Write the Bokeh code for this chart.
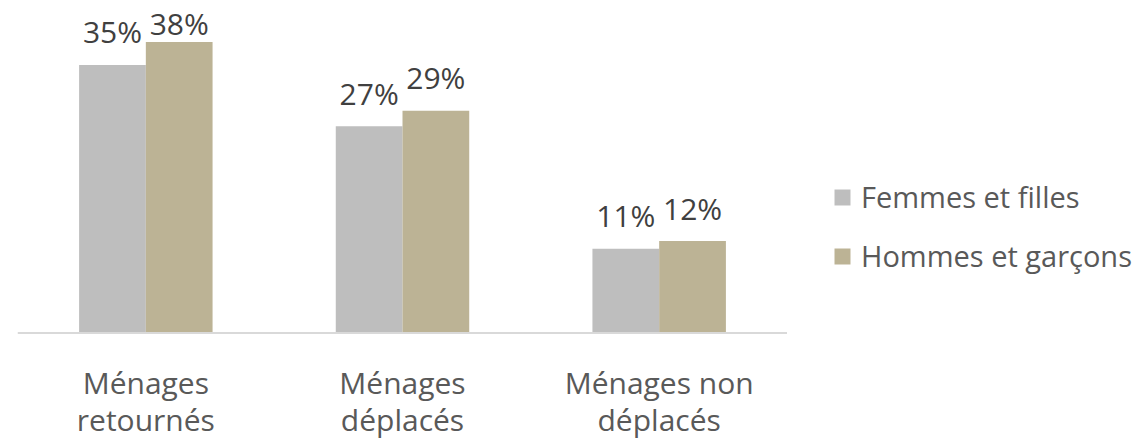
from bokeh.plotting import figure
from bokeh.layouts import row
from bokeh.models import ColumnDataSource, FactorRange, Legend, LegendItem, Span
from bokeh.transform import dodge
from bokeh.core.properties import value
from bokeh.embed import file_html
from bokeh.resources import INLINE
import numpy as np

categories = ["Ménages\nretournés", "Ménages\ndéplacés", "Ménages non\ndéplacés"]
femmes = [35, 27, 11]
hommes = [38, 29, 12]
series_names = ["Femmes et filles", "Hommes et garçons"]
colors = ["#BEBEBE", "#BCB395"]

FONT = "Open Sans"
W, H = 1148, 438
LEFT, FRAME_W = 17, 770
LEG_W = W - LEFT - FRAME_W
BASE = 332.5          # pixel row of the zero line, from the top of the figure
PX_PER = 7.66         # pixels per percentage point
y_end = BASE / PX_PER
y_start = -(H - BASE) / PX_PER

label_cap = y_end - 56 / PX_PER
src = ColumnDataSource(dict(
    cat=categories, f=femmes, h=hommes,
    f_lbl=[f"{v}%" for v in femmes], h_lbl=[f"{v}%" for v in hommes],
    f_y=list(np.minimum(femmes, label_cap)), h_y=list(np.minimum(hommes, label_cap)),
    line1=[c.split("\n")[0] for c in categories],
    line2=[c.split("\n")[1] for c in categories],
    y1=[-49.5 / PX_PER] * len(categories),
    y2=[-86 / PX_PER] * len(categories),
))

p = figure(width=LEFT + FRAME_W, height=H, x_range=FactorRange(*categories, range_padding=0),
           y_range=(y_start, y_end), output_backend="svg", toolbar_location=None,
           y_axis_location=None, x_axis_location=None,
           min_border_left=LEFT, min_border_right=0,
           min_border_top=0, min_border_bottom=0)
p.outline_line_color = None
p.grid.visible = False

r1 = p.vbar(x=dodge('cat', -0.13, range=p.x_range), top='f', width=0.26, source=src,
            fill_color=colors[0], line_color=None)
r2 = p.vbar(x=dodge('cat', 0.13, range=p.x_range), top='h', width=0.26, source=src,
            fill_color=colors[1], line_color=None)

p.add_layout(Span(location=0, dimension="width", line_color="#D9D9D9", line_width=2))

for xo, ycol, tcol in [(-0.13, 'f_y', 'f_lbl'), (0.13, 'h_y', 'h_lbl')]:
    p.text(x=dodge('cat', xo, range=p.x_range), y=ycol, text=tcol, source=src,
           y_offset=-33, text_align="center", text_baseline="middle",
           text_font=value(FONT), text_font_size="30px", text_color="#404040")

for ycol, tcol in [('y1', 'line1'), ('y2', 'line2')]:
    p.text(x='cat', y=ycol, text=tcol, source=src, text_align="center",
           text_baseline="alphabetic", text_font=value(FONT),
           text_font_size="30px", text_color="#595959")

# legend panel (zero-height bars from the same data supply the legend swatches)
pl = figure(width=LEG_W, height=H, x_range=FactorRange(*categories), y_range=(0, 100),
            output_backend="svg", toolbar_location=None,
            x_axis_location=None, y_axis_location=None,
            min_border_left=0, min_border_right=0, min_border_top=0, min_border_bottom=0)
pl.outline_line_color = None
pl.grid.visible = False
k1 = pl.vbar(x='cat', top='f', bottom='f', width=0.1, source=src,
             fill_color=colors[0], line_color=None)
k2 = pl.vbar(x='cat', top='h', bottom='h', width=0.1, source=src,
             fill_color=colors[1], line_color=None)

legend = Legend(items=[LegendItem(label=series_names[0], renderers=[k1]),
                       LegendItem(label=series_names[1], renderers=[k2])],
                location=(45, 163), orientation="vertical",
                glyph_width=20, glyph_height=20, label_standoff=9,
                label_text_font=FONT, label_text_font_size="29px",
                label_text_color="#595959", spacing=20, padding=0, margin=0,
                border_line_color=None, background_fill_alpha=0)
pl.add_layout(legend)

open("out.html", "w").write(file_html(row(p, pl, spacing=0), INLINE))
